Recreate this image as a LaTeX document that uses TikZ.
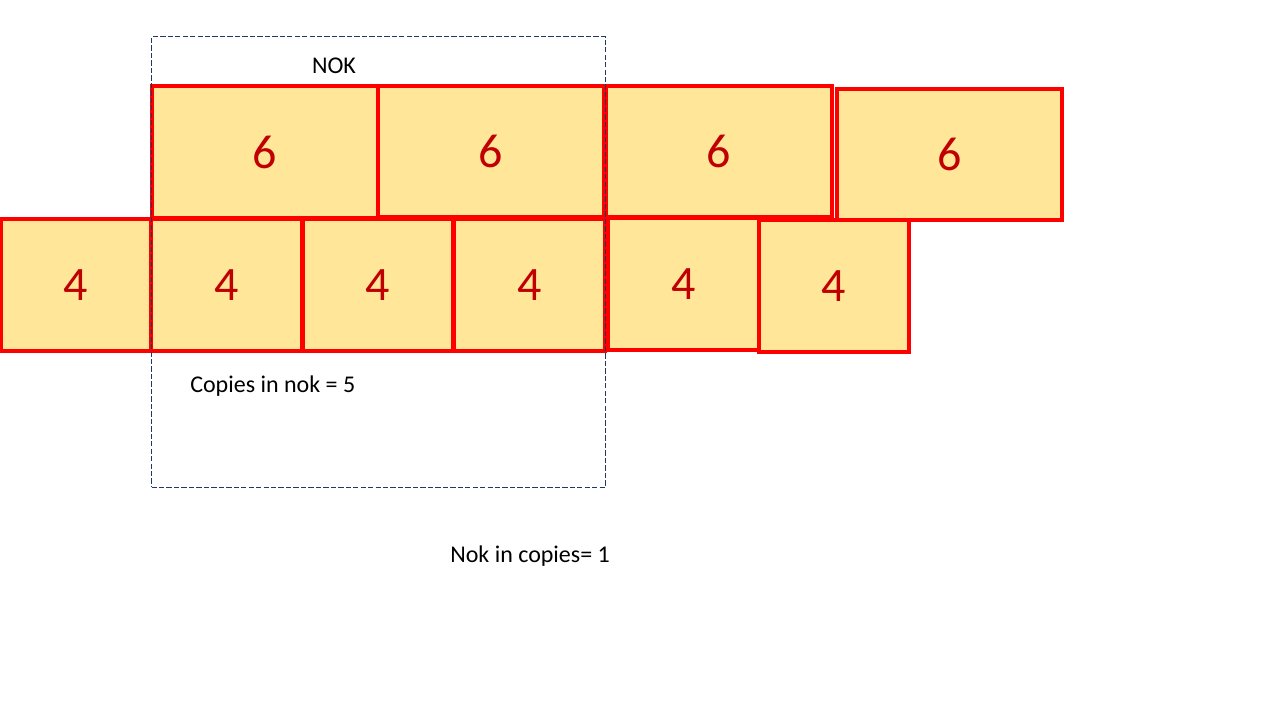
\documentclass[tikz,border=0pt]{standalone}
\usepackage{fontspec}
\setmainfont{Carlito}
\usepackage{tikz}
\definecolor{cellfill}{HTML}{FFE699}
\definecolor{digitred}{HTML}{C00000}
\definecolor{framenavy}{HTML}{1F3864}
\tikzset{
  cell/.style={draw=red, line width=3pt, fill=cellfill, text=digitred, inner sep=0pt,
    font=\fontsize{36}{43}\selectfont},
  sixcell/.style={cell, minimum width=169.5pt, minimum height=98.5pt},
  fourcell/.style={cell, minimum width=113pt, minimum height=99pt},
  nokframe/.style={draw=framenavy, line width=0.75pt, dash pattern=on 4pt off 1.6pt,
    minimum width=340.5pt, minimum height=337.5pt, inner sep=0pt},
  caption/.style={font=\fontsize{18}{22}\selectfont, inner sep=0pt}
}

\begin{document}
\begin{tikzpicture}[x=0.75pt, y=-0.75pt]
\useasboundingbox (0,0) rectangle (1280,720);

\node[fourcell] (four-1) at (76,285) {4};
\node[fourcell] (four-2) at (226.5,285) {4};
\node[fourcell] (four-3) at (378,285) {4};
\node[fourcell] (four-4) at (529.5,285) {4};
\node[fourcell] (four-5) at (683.5,284) {4};
\node[fourcell] (four-6) at (834,286) {4};

\node[sixcell] (six-1) at (265,152) {6};
\node[sixcell] (six-2) at (491,151.5) {6};
\node[sixcell] (six-3) at (719,151.5) {6};
\node[sixcell, minimum width=168.75pt] (six-4) at (949.5,154.5) {6};

\node[nokframe] (nok) at (378.5,262) {};
\node[caption] (nok-label) at (334,65.5) {NOK};
\node[caption, anchor=base west] (copies-in-nok) at (190,392) {Copies in nok = 5};
\node[caption, anchor=base west] (nok-in-copies) at (450,562) {Nok in copies= 1};
\end{tikzpicture}
\end{document}
